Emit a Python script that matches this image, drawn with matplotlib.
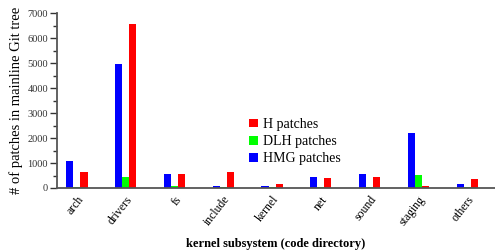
import numpy as np
import matplotlib
matplotlib.use("Agg")
import matplotlib.pyplot as plt
from matplotlib.ticker import MultipleLocator

plt.rcParams['font.family'] = ['Liberation Serif', 'DejaVu Serif']

subsystems = ["arch", "drivers", "fs", "include", "kernel", "net", "sound", "staging", "others"]
hmg_patches = [1095, 4970, 545, 95, 80, 440, 575, 2215, 175]
dlh_patches = [40, 430, 95, 30, 30, 40, 40, 510, 30]
h_patches = [630, 6545, 570, 625, 160, 390, 455, 80, 345]

fig = plt.figure(figsize=(4.95, 2.52), dpi=100)
ax = fig.add_axes([0.115, 0.254, 0.885, 0.694])

x = np.arange(len(subsystems))
w = 0.145
b3 = ax.bar(x - w, hmg_patches, w, color='#0000ff', label='HMG patches')
b2 = ax.bar(x, dlh_patches, w, color='#00ff00', label='DLH patches')
b1 = ax.bar(x + w, h_patches, w, color='#ff0000', label='H patches')

ax.set_xlim(-0.41, 8.57)
ax.set_ylim(0, 7000)
ax.yaxis.set_major_locator(MultipleLocator(1000))
ax.yaxis.set_minor_locator(MultipleLocator(500))
ax.tick_params(axis='y', which='major', length=5, width=1, labelsize=7.5, colors='#333333', pad=1.5)
ax.tick_params(axis='y', which='minor', length=3, width=1, colors='#333333')
ax.tick_params(axis='x', length=0, labelsize=8.5, pad=4)
ax.set_xticks(x)
ax.set_xticklabels(subsystems, rotation=52, ha='right', rotation_mode='anchor')

for s in ['top', 'right']:
    ax.spines[s].set_visible(False)
for s in ['left', 'bottom']:
    ax.spines[s].set_color('#555555')
    ax.spines[s].set_linewidth(1.3)

ax.set_ylabel("# of patches in mainline Git tree", fontsize=10.5, labelpad=3)
ax.set_xlabel("kernel subsystem (code directory)", fontsize=9, fontweight='bold', labelpad=7)

ax.legend(handles=[b1, b2, b3], loc='upper left', bbox_to_anchor=(0.423, 0.44),
          frameon=False, fontsize=10, handlelength=0.6, handleheight=0.6,
          handletextpad=0.4, labelspacing=0.3, borderpad=0)

fig.savefig("out.png", dpi=100)
